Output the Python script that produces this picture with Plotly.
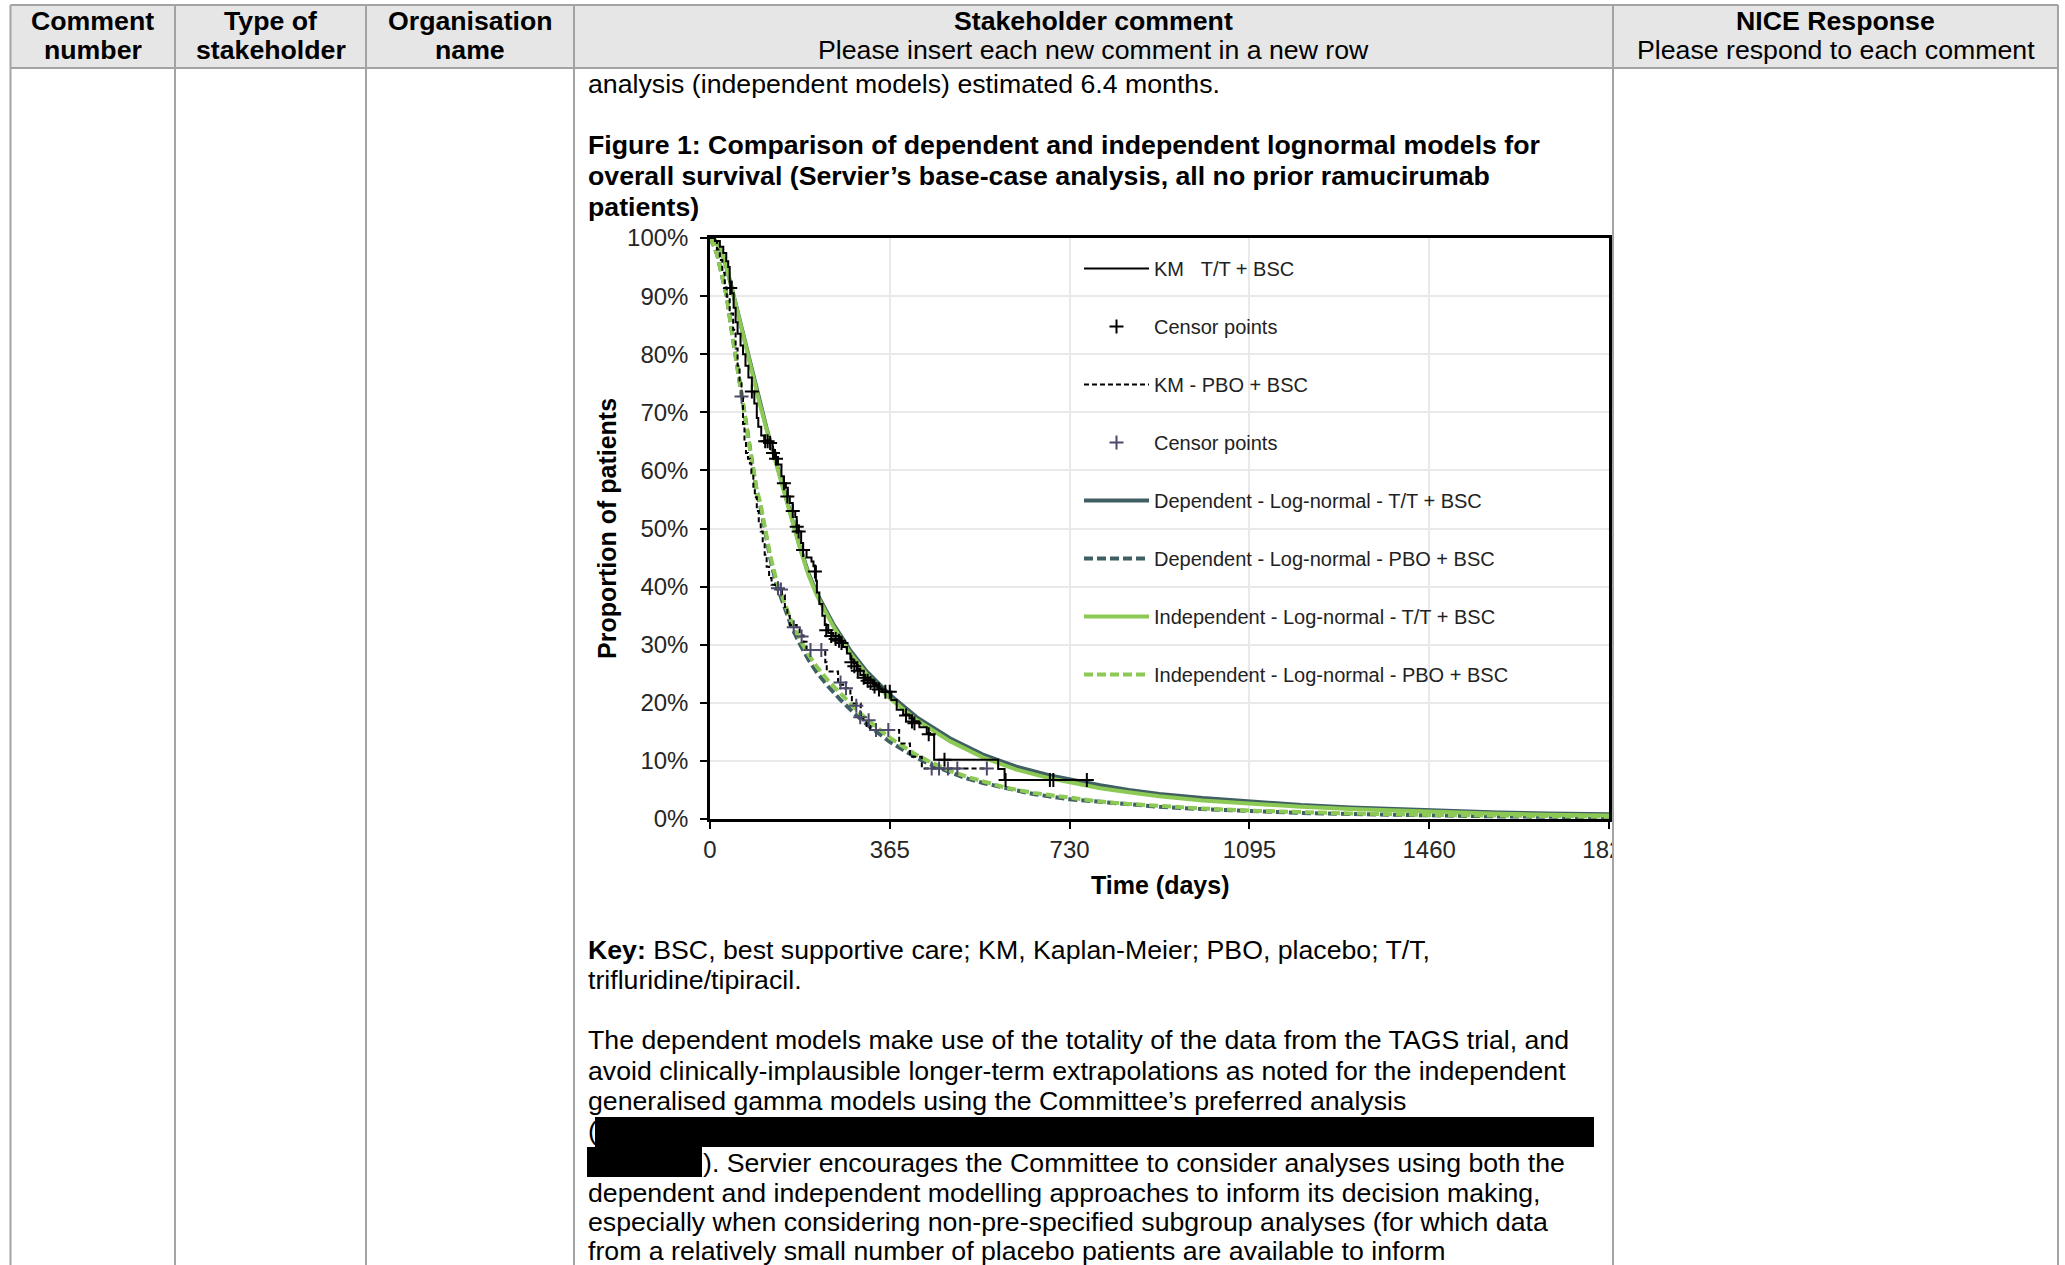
import plotly.graph_objects as go

W, H = 2065, 1265

# ---------------- survival data (time in days, survival in %) ----------------
km_tt_t = [0, 10, 20, 27, 33, 37, 40, 44, 48, 52, 56, 62, 67, 72, 78, 85, 90, 95, 98, 104,
           110, 122, 127, 132, 138, 145, 150, 154, 158, 162, 168, 173, 176, 180, 185, 189,
           196, 206, 210, 215, 217, 222, 228, 233, 240, 250, 264, 270, 278, 285, 291, 298,
           305, 315, 331, 340, 349, 368, 379, 392, 405, 412, 425, 440, 447, 455, 585, 598, 770]
km_tt_s = [100, 99.5, 98.5, 97.4, 96, 95, 92.5, 90.5, 88, 85.5, 83.5, 81.5, 80, 78, 76, 73.6,
           71.5, 69, 67.5, 66, 65.2, 64.7, 63.5, 62.3, 61, 59, 57.8, 57, 55.5, 54.4, 53, 52,
           50.5, 49.5, 47.5, 46.3, 45, 44.3, 43.5, 41, 39, 37, 35, 33.4, 32, 31.4, 30.5, 29.6,
           28.5, 27.5, 26.8, 25.8, 24.8, 24, 23.1, 22.5, 21.9, 20.5, 18.8, 18, 17.3, 16.8,
           15.8, 14.8, 14.5, 10.2, 8.6, 6.7, 6.7]

cens_tt_t = [41, 85, 112, 117, 122, 128, 134, 150, 157, 168, 176, 180, 189, 213, 236, 246,
             255, 262, 267, 287, 293, 300, 312, 320, 326, 334, 343, 356, 365, 398, 410, 415,
             444, 476, 600, 690, 697, 765]
cens_tt_s = [91.4, 73.6, 65, 65, 64.7, 63, 62, 57.8, 55.5, 53, 50.3, 49.5, 46.3, 42.6, 32.5,
             31.5, 31, 30.7, 30.3, 27, 26.3, 25.5, 24.3, 23.8, 23.4, 22.8, 22.3, 21.9, 21.9,
             17.8, 16.8, 16.5, 14.6, 10.2, 6.7, 6.7, 6.7, 6.7]

km_pbo_t = [0, 8, 14, 20, 25, 30, 34, 40, 47, 52, 56, 60, 64, 67, 70, 73, 77, 81, 84, 88, 91,
            95, 99, 103, 107, 111, 115, 120, 125, 132, 146, 152, 157, 162, 176, 182, 190, 196,
            234, 237, 260, 273, 285, 288, 306, 311, 318, 325, 384, 406, 430, 562]
km_pbo_s = [100, 99.5, 98, 96.2, 94, 91.5, 89.9, 87, 84.2, 81, 78, 75, 72.7, 68, 65, 63, 62,
            61.2, 59.5, 57, 55.4, 53, 51, 49.5, 47.5, 45.5, 43.4, 41.5, 40.3, 39.7, 38.5,
            36.5, 35, 33.4, 32.8, 31.6, 30.5, 29.1, 27, 25.4, 23.1, 22.5, 21, 19.9, 17.5,
            17.0, 16, 15.3, 13.0, 10.7, 8.7, 8.7]

cens_pbo_t = [64, 138, 144, 170, 186, 204, 226, 265, 276, 297, 305, 322, 337, 362, 450, 465,
              483, 502, 562]
cens_pbo_s = [72.7, 39.7, 39.5, 33, 31.4, 29.1, 29.1, 23.5, 22.5, 19.5, 17.5, 17, 15.3, 15.3,
              8.7, 8.7, 8.7, 8.7, 8.7]

# fitted log-normal curves
curve_t = [0, 10, 20, 30, 40, 50, 60, 81, 100, 115, 130, 149, 169, 183, 200, 217, 250, 284,
           318, 365, 420, 487, 554, 622, 690, 730, 792, 850, 912, 1000, 1095, 1200, 1300,
           1460, 1600, 1700, 1825]
ind_tt_s = [100, 99.6, 98.2, 96, 92.8, 89.2, 86, 78.5, 71.8, 67, 62.5, 56.6, 50.5, 46.5, 42,
            38.5, 33.2, 28.6, 24.9, 20.8, 17.0, 13.4, 10.6, 8.5, 7.0, 6.3, 5.3, 4.6, 3.9, 3.2,
            2.6, 2.1, 1.7, 1.2, 0.9, 0.75, 0.6]
dep_tt_s = [100, 99.6, 98.2, 96, 92.8, 89.4, 86.2, 78.8, 72, 67.2, 62.7, 56.8, 50.7, 46.7,
            42.3, 38.8, 33.6, 29.1, 25.4, 21.4, 17.5, 13.9, 11.1, 9.0, 7.5, 6.8, 5.8, 5.0,
            4.3, 3.6, 3.0, 2.4, 2.0, 1.5, 1.1, 0.95, 0.8]

pcurve_t = [0, 6, 15, 25, 34, 45, 54, 65, 74.5, 85, 95, 102, 112, 122, 135, 149, 165, 183,
            200, 217, 240, 264, 290, 318, 340, 365, 390, 420, 450, 487, 520, 554, 600, 656,
            730, 792, 850, 912, 1000, 1095, 1200, 1300, 1460, 1600, 1825]
ind_pbo_s = [100, 99, 97, 93.5, 89.9, 83.5, 78.5, 72, 67, 61.5, 56.6, 54.5, 50, 45.5, 41,
             37.7, 34, 30.8, 28.3, 26.2, 23.8, 21.7, 19.4, 17.2, 15.6, 14.0, 12.6, 11.0, 9.7,
             8.3, 7.3, 6.5, 5.4, 4.5, 3.6, 3.0, 2.6, 2.2, 1.8, 1.45, 1.15, 0.95, 0.7, 0.55, 0.4]
dep_pbo_s = [100, 99, 97, 93.5, 89.9, 83.5, 78.5, 72, 67, 61.5, 56.3, 54, 49.5, 45, 40.3,
             36.9, 33.2, 30, 27.4, 25.2, 22.8, 20.6, 18.4, 16.3, 14.8, 13.3, 12.0, 10.5, 9.3,
             8.0, 7.0, 6.2, 5.3, 4.3, 3.4, 2.9, 2.5, 2.1, 1.7, 1.35, 1.05, 0.85, 0.6, 0.45, 0.3]

x_ticks = [0, 365, 730, 1095, 1460, 1825]
y_ticks = [0, 10, 20, 30, 40, 50, 60, 70, 80, 90, 100]
y_tick_labels = ["0%", "10%", "20%", "30%", "40%", "50%", "60%", "70%", "80%", "90%", "100%"]

TEAL = "#3f5f63"
GREEN = "#8dc955"
PURP = "#4c4a6a"
FONT = "Liberation Sans"
TXT = 26.7


def px(x):
    return x / W


def py(y):
    return 1 - y / H


fig = go.Figure()

fig.add_trace(go.Scatter(x=curve_t, y=dep_tt_s, mode="lines", name="Dependent - Log-normal - T/T + BSC",
                         line=dict(color=TEAL, width=4), legendrank=5, legendgroup="g5"))
fig.add_trace(go.Scatter(x=pcurve_t, y=dep_pbo_s, mode="lines", name="Dependent - Log-normal - PBO + BSC",
                         line=dict(color=TEAL, width=4, dash="9px,4px"), legendrank=6, legendgroup="g6"))
fig.add_trace(go.Scatter(x=curve_t, y=ind_tt_s, mode="lines", name="Independent - Log-normal - T/T + BSC",
                         line=dict(color=GREEN, width=4), legendrank=7, legendgroup="g7"))
fig.add_trace(go.Scatter(x=pcurve_t, y=ind_pbo_s, mode="lines", name="Independent - Log-normal - PBO + BSC",
                         line=dict(color=GREEN, width=4, dash="9px,4px"), legendrank=8, legendgroup="g8"))
fig.add_trace(go.Scatter(x=km_tt_t, y=km_tt_s, mode="lines", name="KM\u00a0\u00a0\u00a0T/T + BSC",
                         line=dict(color="black", width=2, shape="hv"), legendrank=1, legendgroup="g1"))
fig.add_trace(go.Scatter(x=km_pbo_t, y=km_pbo_s, mode="lines", name="KM - PBO + BSC",
                         line=dict(color="black", width=2, shape="hv", dash="5px,3px"),
                         legendrank=3, legendgroup="g3"))
fig.add_trace(go.Scatter(x=cens_tt_t, y=cens_tt_s, mode="markers", name="Censor points",
                         marker=dict(symbol="cross-thin", size=10, color="black",
                                     line=dict(color="black", width=2)),
                         legendrank=2, legendgroup="g2"))
fig.add_trace(go.Scatter(x=cens_pbo_t, y=cens_pbo_s, mode="markers", name="Censor points",
                         marker=dict(symbol="cross-thin", size=10, color=PURP,
                                     line=dict(color=PURP, width=2)),
                         legendrank=4, legendgroup="g4"))

# ---------------- table frame ----------------
BORDER = "#a3a3a3"
shapes = []
shapes.append(dict(type="rect", xref="paper", yref="paper", x0=px(10.5), x1=px(2058), y0=py(68), y1=py(5),
                   fillcolor="#e6e6e6", line=dict(width=0), layer="below"))
# mask for the clipped chart image at the column edge
shapes.append(dict(type="rect", xref="paper", yref="paper", x0=px(1614), x1=px(1700), y0=py(875), y1=py(826),
                   fillcolor="white", line=dict(width=0), layer="above"))
for yy in [5, 68]:
    shapes.append(dict(type="line", xref="paper", yref="paper", x0=px(10.5), x1=px(2058), y0=py(yy), y1=py(yy),
                       line=dict(color=BORDER, width=2), layer="above"))
for xx in [10.5, 175, 366, 574, 1613, 2058]:
    shapes.append(dict(type="line", xref="paper", yref="paper", x0=px(xx), x1=px(xx), y0=py(5), y1=py(1265),
                       line=dict(color=BORDER, width=2), layer="above"))
# redacted passages
shapes.append(dict(type="rect", xref="paper", yref="paper", x0=px(595), x1=px(1594), y0=py(1147), y1=py(1117),
                   fillcolor="black", line=dict(width=0), layer="above"))
shapes.append(dict(type="rect", xref="paper", yref="paper", x0=px(587), x1=px(702), y0=py(1177), y1=py(1147),
                   fillcolor="black", line=dict(width=0), layer="above"))

annotations = []


def text(x, y, s, anchor="left", size=TXT, bold=False, angle=0, color="black"):
    annotations.append(dict(xref="paper", yref="paper", x=px(x), y=py(y), text=("<b>%s</b>" % s) if bold else s,
                            showarrow=False, xanchor=anchor, yanchor="middle", textangle=angle,
                            font=dict(family=FONT, size=size, color=color), borderpad=0))


# header row
text(92.7, 21, "Comment", "center", bold=True)
text(92.7, 50, "number", "center", bold=True)
text(270.5, 21, "Type of", "center", bold=True)
text(270.5, 50, "stakeholder", "center", bold=True)
text(470, 21, "Organisation", "center", bold=True)
text(470, 50, "name", "center", bold=True)
text(1093.5, 21, "Stakeholder comment", "center", bold=True)
text(1093.5, 50, "Please insert each new comment in a new row", "center")
text(1835.5, 21, "NICE Response", "center", bold=True)
text(1835.5, 50, "Please respond to each comment", "center")

# comment body
LX = 587
text(LX, 84, "analysis (independent models) estimated 6.4 months.")
text(LX, 145, "Figure 1: Comparison of dependent and independent lognormal models for", bold=True)
text(LX, 176, "overall survival (Servier\u2019s base-case analysis, all no prior ramucirumab", bold=True)
text(LX, 207, "patients)", bold=True)
text(LX, 950, "<b>Key:</b> BSC, best supportive care; KM, Kaplan-Meier; PBO, placebo; T/T,")
text(LX, 980, "trifluridine/tipiracil.")
text(LX, 1040, "The dependent models make use of the totality of the data from the TAGS trial, and")
text(LX, 1071, "avoid clinically-implausible longer-term extrapolations as noted for the independent")
text(LX, 1101, "generalised gamma models using the Committee\u2019s preferred analysis")
text(LX, 1131, "(")
text(702, 1163, "). Servier encourages the Committee to consider analyses using both the")
text(LX, 1193, "dependent and independent modelling approaches to inform its decision making,")
text(LX, 1222, "especially when considering non-pre-specified subgroup analyses (for which data")
text(LX, 1251, "from a relatively small number of placebo patients are available to inform")

# chart axis titles
text(607, 529, "Proportion of patients", "center", size=25, bold=True, angle=-90)
text(1160, 885, "Time (days)", "center", size=25, bold=True)

fig.update_layout(
    width=W, height=H, autosize=False,
    margin=dict(l=0, r=0, t=0, b=0, pad=0, autoexpand=False),
    paper_bgcolor="white", plot_bgcolor="white",
    font=dict(family=FONT, size=24, color="#262626"),
    shapes=shapes, annotations=annotations,
    showlegend=True,
    legend=dict(x=px(1079), y=py(249), xanchor="left", yanchor="top",
                bgcolor="rgba(0,0,0,0)", borderwidth=0,
                font=dict(family=FONT, size=20, color="#222222"),
                traceorder="grouped", tracegroupgap=29, itemwidth=65),
    xaxis=dict(domain=[px(710), px(1609)], range=[0, 1825], tickvals=x_ticks,
               showgrid=True, gridcolor="#e9e9e9", gridwidth=1.5, zeroline=False,
               showline=True, linecolor="black", linewidth=2.5, mirror=True,
               ticks="outside", ticklen=7, tickwidth=2, tickcolor="black", automargin=False,
               tickfont=dict(family=FONT, size=24, color="#262626"), fixedrange=True),
    yaxis=dict(domain=[py(819), py(238)], range=[0, 100], tickmode="array",
               tickvals=y_ticks, ticktext=y_tick_labels, ticklabelstandoff=7,
               showgrid=True, gridcolor="#e9e9e9", gridwidth=1.5, zeroline=False,
               showline=True, linecolor="black", linewidth=2.5, mirror=True,
               ticks="outside", ticklen=7, tickwidth=2, tickcolor="black", automargin=False,
               tickfont=dict(family=FONT, size=24, color="#262626"), fixedrange=True),
)

# pin the graph to the top-left corner of the page
PAGE_JS = (
    "var d=document.getElementById('{plot_id}');"
    "d.style.position='fixed';d.style.left='0px';d.style.top='0px';"
    "document.body.style.margin='0';document.body.style.padding='0';"
    "document.documentElement.style.overflow='hidden';"
)

fig.write_html("out.html", config={"displayModeBar": False}, post_script=PAGE_JS)
